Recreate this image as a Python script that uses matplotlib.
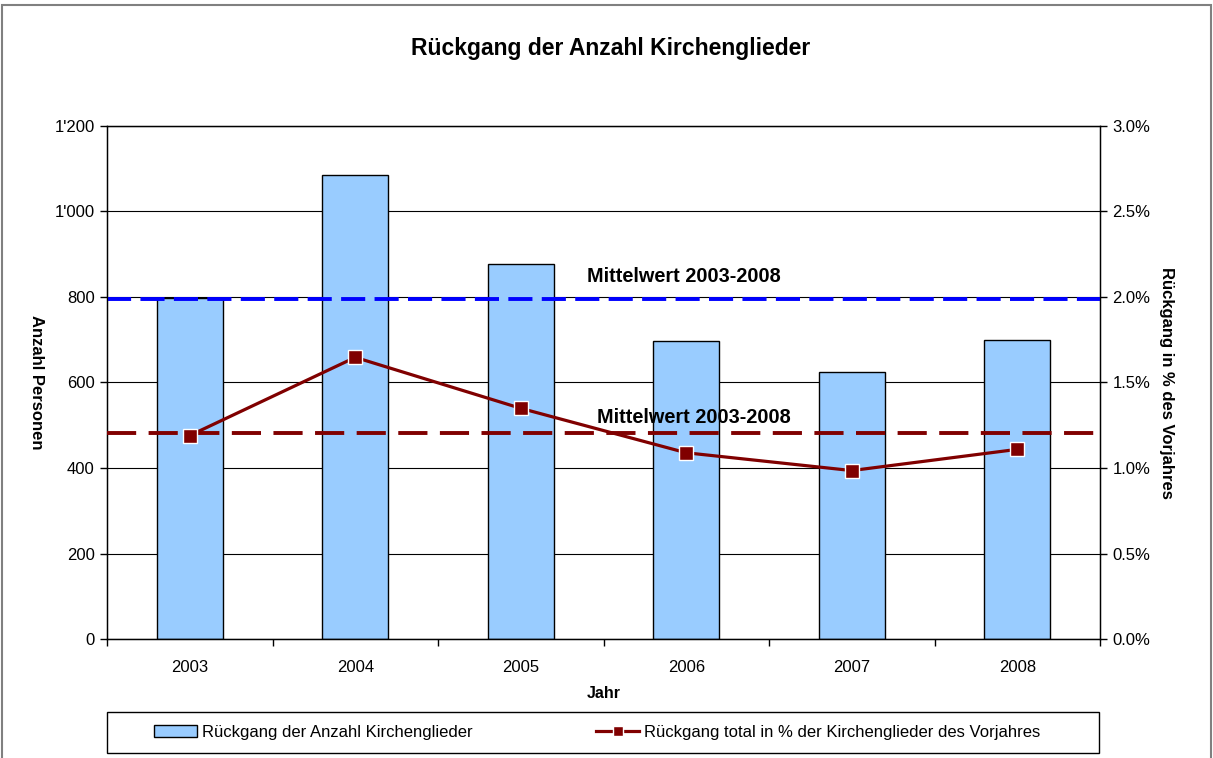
import numpy as np
import matplotlib
matplotlib.use("Agg")
import matplotlib.pyplot as plt
from matplotlib.ticker import FuncFormatter, MultipleLocator, FixedLocator
from matplotlib.lines import Line2D
from matplotlib.patches import Patch, Rectangle

plt.rcParams['font.family'] = ['Liberation Sans', 'DejaVu Sans']

years = ['2003', '2004', '2005', '2006', '2007', '2008']
decline_count = [797, 1085, 877, 697, 624, 699]
decline_pct = [1.19, 1.647, 1.349, 1.089, 0.985, 1.109]
mean_count = 796
mean_pct = 1.205

bar_label = "Rückgang der Anzahl Kirchenglieder"
line_label = "Rückgang total in % der Kirchenglieder des Vorjahres"
mean_label = "Mittelwert 2003-2008"

bar_color = "#99CCFF"
line_color = "#800000"
mean_blue = "#0000FF"

fig = plt.figure(figsize=(12.13, 7.58), dpi=100)
ax = fig.add_axes([107 / 1213, 1 - 639 / 758, (1100 - 107) / 1213, (639 - 126) / 758])
x = np.arange(len(years))

ax.bar(x, decline_count, width=0.4, color=bar_color, edgecolor="black", linewidth=1.0, zorder=2)
ax.axhline(mean_count, color=mean_blue, lw=2.8, dashes=(6.2, 2.4), zorder=3)
ax.set_xlim(-0.5, len(years) - 0.5)
ax.set_ylim(0, 1200)
ax.yaxis.set_major_locator(MultipleLocator(200))
ax.yaxis.set_major_formatter(FuncFormatter(lambda v, p: f"{int(v):,}".replace(",", "'")))
ax.grid(axis="y", color="black", lw=0.8)
ax.set_axisbelow(True)
ax.set_xticks(x)
ax.set_xticklabels(years)
ax.xaxis.set_minor_locator(FixedLocator(np.arange(-0.5, len(years), 1.0)))
ax.tick_params(axis="x", which="major", length=0, pad=15, labelsize=12)
ax.tick_params(axis="x", which="minor", length=5, width=1, direction="out")
ax.tick_params(axis="y", length=5, width=1, labelsize=12, pad=4)
for s in ax.spines.values():
    s.set_linewidth(1.0)
ax.set_xlabel("Jahr", fontsize=11.5, fontweight="bold", labelpad=8)
ax.set_ylabel("Anzahl Personen", fontsize=12, fontweight="bold", rotation=-90, labelpad=13, va="center")
ax.text(2.985, 849, mean_label, ha="center", va="center", fontsize=14.3, fontweight="bold", zorder=5)

ax2 = ax.twinx()
ax2.set_ylim(0, 3.0)
ax2.plot(x, decline_pct, color=line_color, lw=2.3, marker="s", markersize=10,
         markerfacecolor=line_color, markeredgecolor="white", markeredgewidth=1.0, zorder=4)
ax2.axhline(mean_pct, color=line_color, lw=2.8, dashes=(7.5, 3.2), zorder=3)
ax2.yaxis.set_major_locator(MultipleLocator(0.5))
ax2.yaxis.set_major_formatter(FuncFormatter(lambda v, p: f"{v:.1f}%"))
ax2.tick_params(axis="y", length=5, width=1, labelsize=12, pad=4)
ax2.set_ylabel("Rückgang in % des Vorjahres", fontsize=12, fontweight="bold", rotation=-90, labelpad=6, va="bottom")
ax2.text(3.045, 1.298, mean_label, ha="center", va="center", fontsize=14.3, fontweight="bold", zorder=5)

fig.text(611 / 1213, 1 - 48 / 758, "Rückgang der Anzahl Kirchenglieder", ha="center", va="center",
         fontsize=16.5, fontweight="bold")

handles = [Patch(facecolor=bar_color, edgecolor="black", linewidth=1.0),
           Line2D([], [], color=line_color, lw=2.3, marker="s", markersize=7,
                  markerfacecolor=line_color, markeredgecolor="white")]
leg = fig.legend(handles, [bar_label, line_label], ncol=2, loc="center",
                 bbox_to_anchor=(101 / 1213, 1 - 753 / 758, (1099 - 107) / 1213, 41 / 758),
                 fontsize=12, frameon=False, handlelength=2.6, handletextpad=0.3,
                 columnspacing=7.4, borderaxespad=0)
fig.patches.append(Rectangle((107 / 1213, 1 - 753 / 758), (1099 - 107) / 1213, 41 / 758,
                             transform=fig.transFigure, fill=False, edgecolor="black", lw=1.0))

fig.patches.append(Rectangle((2 / 1213, -0.01), 1 - 4 / 1213, 1 - 5 / 758 + 0.01, transform=fig.transFigure,
                             fill=False, edgecolor="#808080", lw=1.5))

fig.savefig("out.png", dpi=100)
